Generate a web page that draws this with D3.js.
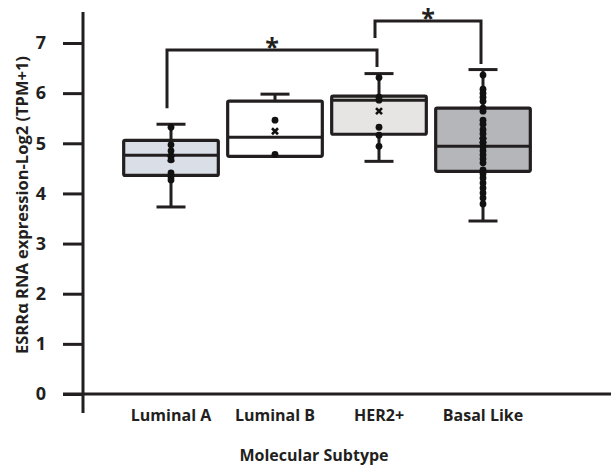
<!DOCTYPE html>
<html>
<head>
<meta charset="utf-8">
<script src="https://cdn.jsdelivr.net/npm/d3@7"></script>
<style>
  html, body { margin: 0; padding: 0; background: #fff; }
  svg { display: block; }
  text { font-family: "Open Sans", sans-serif; font-weight: 700; fill: #231f20; }
</style>
</head>
<body>
<svg id="chart" width="611" height="466"></svg>
<script>
// ---- data ----
const categories = ["Luminal A", "Luminal B", "HER2+", "Basal Like"];
const whiskerLow  = [3.73, 4.74, 4.64, 3.45];
const q1          = [4.36, 4.74, 5.18, 4.44];
const medians     = [4.76, 5.12, 5.86, 4.94];
const q3          = [5.06, 5.84, 5.94, 5.70];
const whiskerHigh = [5.38, 5.98, 6.39, 6.47];
const means       = [4.69, 5.24, 5.64, 5.06];
const pointsLumA  = [5.32, 4.97, 4.85, 4.75, 4.67, 4.41, 4.33, 4.27];
const pointsLumB  = [5.46, 4.78];
const pointsHER2  = [6.31, 5.92, 5.86, 5.32, 5.16, 4.94];
const pointsBasal = [6.36, 6.08, 6.00, 5.92, 5.84, 5.70, 5.64, 5.46, 5.38, 5.27, 5.19, 5.09, 5.01,
                     4.93, 4.85, 4.77, 4.69, 4.61, 4.47, 4.39, 4.31, 4.21, 4.11, 4.01, 3.91, 3.79];
const points = [pointsLumA, pointsLumB, pointsHER2, pointsBasal];
const boxFills = ["#d9dee7", "#ffffff", "#e6e5e3", "#b5b6b9"];
const yTicks = [0, 1, 2, 3, 4, 5, 6, 7];
// significance brackets
const brackets = [
  { from: "Luminal A", to: "HER2+",      level: 6.86, leftEnd: 5.70, rightEnd: 6.52, label: "*" },
  { from: "HER2+",     to: "Basal Like", level: 7.44, leftEnd: 7.10, rightEnd: 6.58, label: "*" }
];
const yTitle = "ESRRα RNA expression-Log2 (TPM+1)";
const xTitle = "Molecular Subtype";

// ---- layout ----
const svg = d3.select("#chart");
const ink = "#231f20";
const axisX = 83, axisY = 394;

const y = d3.scaleLinear().domain([0, 7]).range([394, 43]);
const x = d3.scaleBand().domain(categories).range([119, 535]).paddingInner(0).paddingOuter(0);
const bw = x.bandwidth();
const boxW = bw * 0.91;
const capW = 29;
const cx = c => x(c) + bw / 2;

// axes lines
svg.append("line").attr("x1", 63).attr("x2", 611).attr("y1", axisY).attr("y2", axisY)
  .attr("stroke", ink).attr("stroke-width", 3);
svg.append("line").attr("x1", axisX).attr("x2", axisX).attr("y1", 12).attr("y2", 413)
  .attr("stroke", ink).attr("stroke-width", 3);

// y axis ticks + labels via d3 axis
const yAxis = d3.axisLeft(y).tickValues(yTicks).tickFormat(d3.format("d")).tickSize(20).tickPadding(17);
const gy = svg.append("g").attr("transform", `translate(${axisX},0)`).call(yAxis);
gy.select(".domain").remove();
gy.selectAll(".tick line").attr("stroke", ink).attr("stroke-width", 3);
gy.selectAll(".tick text").attr("font-size", 18).attr("font-family", "'Open Sans', sans-serif")
  .attr("font-weight", 700).attr("fill", ink);

// x axis labels via d3 axis
const xAxis = d3.axisBottom(x).tickSize(0).tickPadding(16);
const gx = svg.append("g").attr("transform", `translate(0,${axisY})`).call(xAxis);
gx.select(".domain").remove();
gx.selectAll(".tick text").attr("font-size", 16).attr("font-family", "'Open Sans', sans-serif")
  .attr("font-weight", 700).attr("fill", ink);

// titles
svg.append("text").attr("x", 314).attr("y", 461).attr("text-anchor", "middle")
  .attr("font-size", 16).text(xTitle);
svg.append("text").attr("transform", `translate(28,205) rotate(-90)`).attr("text-anchor", "middle")
  .attr("font-size", 16.5).text(yTitle);

// boxes
categories.forEach((c, i) => {
  const g = svg.append("g");
  const xc = cx(c);
  g.append("line").attr("x1", xc).attr("x2", xc).attr("y1", y(whiskerHigh[i])).attr("y2", y(q3[i]))
    .attr("stroke", ink).attr("stroke-width", 3);
  g.append("line").attr("x1", xc).attr("x2", xc).attr("y1", y(q1[i])).attr("y2", y(whiskerLow[i]))
    .attr("stroke", ink).attr("stroke-width", 3);
  [whiskerHigh[i], whiskerLow[i]].forEach(v => {
    if (Math.abs(v - q1[i]) < 1e-9) return;
    g.append("line").attr("x1", xc - capW / 2).attr("x2", xc + capW / 2).attr("y1", y(v)).attr("y2", y(v))
      .attr("stroke", ink).attr("stroke-width", 3);
  });
  g.append("rect").attr("x", xc - boxW / 2).attr("width", boxW)
    .attr("y", y(q3[i])).attr("height", y(q1[i]) - y(q3[i]))
    .attr("fill", boxFills[i]).attr("stroke", ink).attr("stroke-width", 3.2).attr("rx", 1.5);
  g.append("line").attr("x1", xc - boxW / 2).attr("x2", xc + boxW / 2)
    .attr("y1", y(medians[i])).attr("y2", y(medians[i])).attr("stroke", ink).attr("stroke-width", 3);
  g.selectAll("circle").data(points[i]).join("circle")
    .attr("cx", xc).attr("cy", d => y(d)).attr("r", 3.4).attr("fill", "#111");
  const m = y(means[i]), s = 3;
  g.append("path").attr("d", `M${xc - s},${m - s}L${xc + s},${m + s}M${xc - s},${m + s}L${xc + s},${m - s}`)
    .attr("stroke", "#111").attr("stroke-width", 2.6);
});

// brackets
brackets.forEach(b => {
  const x1 = cx(b.from) - 4, x2 = cx(b.to) - 2;
  svg.append("path")
    .attr("d", `M${x1},${y(b.leftEnd)}V${y(b.level)}H${x2}V${y(b.rightEnd)}`)
    .attr("fill", "none").attr("stroke", ink).attr("stroke-width", 3);
  svg.append("text").attr("x", (x1 + x2) / 2).attr("y", y(b.level) + 6)
    .attr("text-anchor", "middle").attr("font-size", 25).attr("font-weight", 400)
    .attr("fill", "#333").text(b.label);
});
</script>
</body>
</html>
